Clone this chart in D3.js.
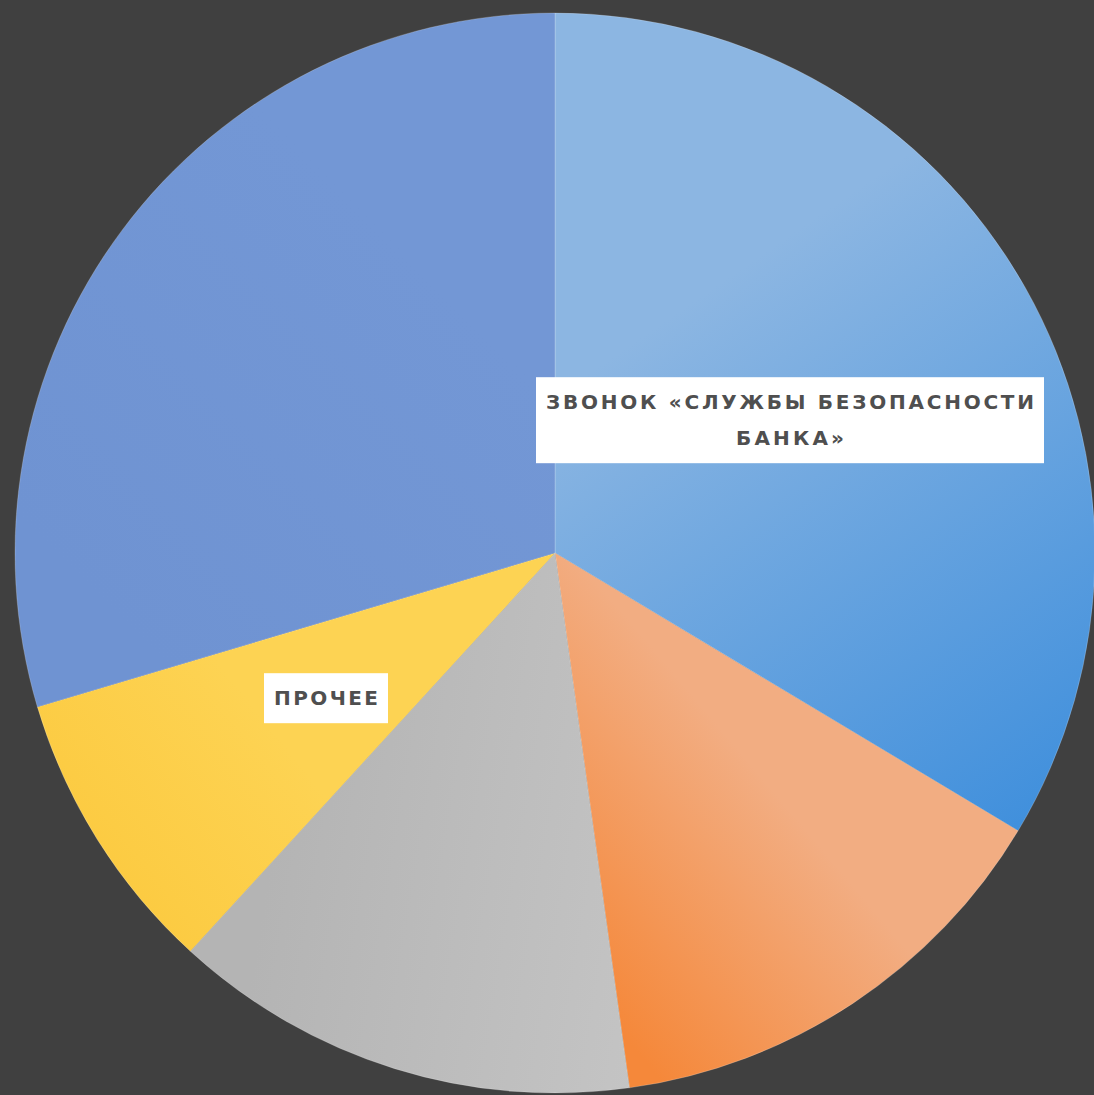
<!DOCTYPE html>
<html><head><meta charset="utf-8">
<script src="https://cdn.jsdelivr.net/npm/d3@7"></script>
<style>html,body{margin:0;padding:0;background:#404040;overflow:hidden}</style>
</head><body>
<svg id="c" width="1094" height="1095"></svg>
<script>
const categories = ["ЗВОНОК «СЛУЖБЫ БЕЗОПАСНОСТИ БАНКА»", "", "", "ПРОЧЕЕ", ""];
const values = [33.6, 14.2, 14.0, 8.6, 29.6];
const labelLines = [["ЗВОНОК «СЛУЖБЫ БЕЗОПАСНОСТИ", "БАНКА»"], [], [], ["ПРОЧЕЕ"], []];
const colorsLight = ["#8cb6e2", "#f2ad82", "#c4c4c4", "#fdd353", "#7397d5"];
const colorsDark  = ["#3f8fdc", "#f5883a", "#b4b4b4", "#fccb42", "#6f93d2"];

const svg = d3.select("#c");
const cx = 555, cy = 553, R = 540;
const defs = svg.append("defs");
const g = svg.append("g").attr("transform", `translate(${cx},${cy})`);

const pie = d3.pie().sort(null).value(d => d)(values);
const arc = d3.arc().innerRadius(0).outerRadius(R);

const gradDirs = [
  [[-100,-500],[450,300]],
  [[420,250],[100,520]],
  [[300,500],[-300,400]],
  [[-200,100],[-450,300]],
  [[0,-500],[-500,0]]
];
pie.forEach((p,i) => {
  const lg = defs.append("linearGradient").attr("id","g"+i)
    .attr("gradientUnits","userSpaceOnUse")
    .attr("x1",gradDirs[i][0][0]).attr("y1",gradDirs[i][0][1])
    .attr("x2",gradDirs[i][1][0]).attr("y2",gradDirs[i][1][1]);
  lg.append("stop").attr("offset","0.35").attr("stop-color",colorsLight[i]);
  lg.append("stop").attr("offset","1").attr("stop-color",colorsDark[i]);
});

g.selectAll("path.slice").data(pie).join("path")
  .attr("class","slice")
  .attr("d", arc)
  .attr("fill",(d,i)=>`url(#g${i})`)
  .attr("stroke","rgba(255,255,255,0.25)")
  .attr("stroke-width",0.8);

const labelPos = [[790-cx, 420-cy], null, null, [326-cx, 698-cy], null];
const lineWidths = [[488, 108], [], [], [104], []];
pie.forEach((p,i) => {
  if (!categories[i]) return;
  const lines = labelLines[i];
  const lg = g.append("g").attr("transform",`translate(${labelPos[i][0]},${labelPos[i][1]})`);
  const fs = 20, lh = 36;
  lg.selectAll("text").data(lines).join("text")
    .attr("text-anchor","middle")
    .attr("x", 0)
    .attr("y",(d,j)=> (j-(lines.length-1)/2)*lh)
    .attr("dy","0.36em")
    .attr("font-family","'DejaVu Sans', sans-serif")
    .attr("font-weight","bold")
    .attr("font-size",fs)
    .attr("textLength",(d,j)=>lineWidths[i][j])
    .attr("lengthAdjust","spacing")
    .attr("fill","#4f4f4f")
    .text(d=>d);
  const bb = lg.node().getBBox();
  const padX = 10, padY = 13;
  lg.insert("rect","text")
    .attr("x",bb.x-padX).attr("y",bb.y-padY)
    .attr("width",bb.width+2*padX).attr("height",bb.height+2*padY)
    .attr("fill","#ffffff");
});
</script>
</body></html>
